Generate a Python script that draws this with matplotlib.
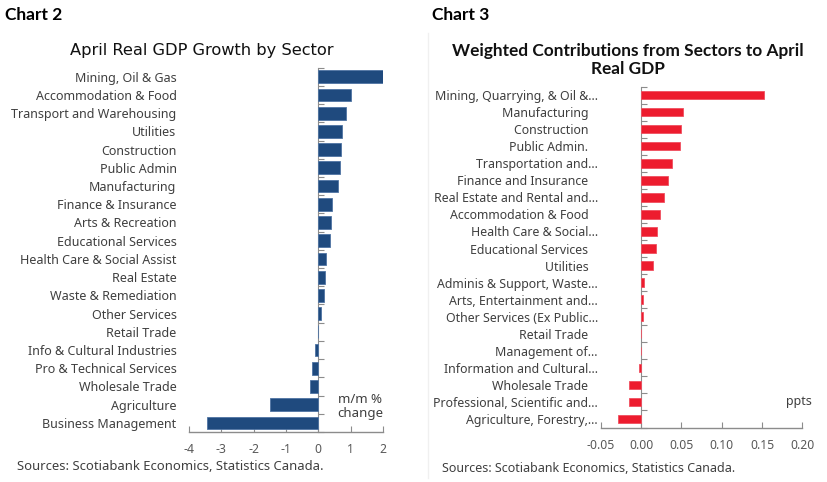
import matplotlib
matplotlib.use("Agg")
import matplotlib.pyplot as plt
from matplotlib.lines import Line2D
import numpy as np

# ---- Chart 2 data ----
sectors2 = ["Mining, Oil & Gas", "Accommodation & Food", "Transport and Warehousing",
            "Utilities", "Construction", "Public Admin", "Manufacturing",
            "Finance & Insurance", "Arts & Recreation", "Educational Services",
            "Health Care & Social Assist", "Real Estate", "Waste & Remediation",
            "Other Services", "Retail Trade", "Info & Cultural Industries",
            "Pro & Technical Services", "Wholesale Trade", "Agriculture",
            "Business Management"]
growth2 = [2.05, 1.02, 0.87, 0.73, 0.70, 0.66, 0.62, 0.43, 0.39, 0.37,
           0.25, 0.22, 0.17, 0.08, 0.0, -0.10, -0.20, -0.27, -1.50, -3.44]
xticks2 = [-4, -3, -2, -1, 0, 1, 2]

# ---- Chart 3 data ----
sectors3 = ["Mining, Quarrying, & Oil &...", "Manufacturing   ", "Construction   ",
            "Public Admin.   ", "Transportation and...", "Finance and Insurance   ",
            "Real Estate and Rental and...", "Accommodation & Food   ",
            "Health Care & Social...", "Educational Services   ", "Utilities   ",
            "Adminis & Support, Waste...", "Arts, Entertainment and...",
            "Other Services (Ex Public...", "Retail Trade   ", "Management of...",
            "Information and Cultural...", "Wholesale Trade   ",
            "Professional, Scientific and...", "Agriculture, Forestry,..."]
contrib3 = [0.153, 0.052, 0.050, 0.048, 0.039, 0.034, 0.029, 0.023, 0.020, 0.019,
            0.015, 0.004, 0.003, 0.002, 0.0, -0.0005, -0.003, -0.0145, -0.015, -0.028]
xticks3 = [-0.05, 0.00, 0.05, 0.10, 0.15, 0.20]

NAVY = "#1f4a7e"
RED = "#ed1c2e"
AXIS = "#8c8c8c"
TXT = "#3f3f3f"
LAB = "Noto Sans"

fig = plt.figure(figsize=(8.28, 4.82), dpi=100)

def style(ax, cats, vals, xticks, color, height, edge, fmt, labsize, pad):
    n = len(cats)
    y = np.arange(n)
    ax.barh(y, vals, height=height, color=color, edgecolor=edge, linewidth=0.6, zorder=2)
    ax.set_xlim(xticks[0], xticks[-1])
    ax.set_ylim(n - 0.5, -0.5)
    ax.set_yticks(y)
    ax.set_yticklabels(cats, fontsize=labsize, color=TXT, family=LAB)
    ax.tick_params(axis="y", length=0, pad=pad)
    ax.set_xticks(xticks)
    ax.set_xticklabels([fmt(v) for v in xticks], fontsize=8.8, color="#595959", family=LAB)
    ax.tick_params(axis="x", direction="in", length=4, color=AXIS, pad=8)
    for s in ["top", "right", "left"]:
        ax.spines[s].set_visible(False)
    ax.spines["bottom"].set_color(AXIS)
    ax.spines["bottom"].set_linewidth(1.0)
    # zero line with category-boundary ticks
    frac = (0 - xticks[0]) / (xticks[-1] - xticks[0])
    sec = ax.secondary_yaxis(frac)
    sec.set_yticks(np.arange(n + 1) - 0.5)
    sec.set_yticklabels([])
    sec.spines["left"].set_color(AXIS)
    sec.spines["right"].set_color(AXIS)
    sec.set_alignment("right")
    sec.tick_params(axis="y", direction="out", length=4, color=AXIS)
    return sec

# Chart 2
ax2 = fig.add_axes([0.2283, 0.1037, 0.2343, 0.756])
style(ax2, sectors2, growth2, xticks2, NAVY, 0.7, "#4f74a3",
      lambda v: f"{v:d}", 9.0, 9)
ax2.text(1.3, 18.1, "m/m %\nchange", ha="center", va="center", fontsize=9.5,
         color=TXT, family=LAB, linespacing=1.15)

# Chart 3
ax3 = fig.add_axes([0.7255, 0.113, 0.2435, 0.7075])
style(ax3, sectors3, contrib3, xticks3, RED, 0.5, "#f05060",
      lambda v: f"{v:.2f}", 8.9, 2)
ax3.text(0.196, 18.0, "ppts", ha="center", va="center", fontsize=9,
         color=TXT, family=LAB)

# faint panel border of chart 3
fig.add_artist(Line2D([428 / 828, 428 / 828], [1 - 33 / 482, 1 - 478 / 482],
                      color="#f0f0f0", lw=1.0))

# Titles and headers
fig.text(5 / 828, 1 - 15 / 482, "Chart 2", fontsize=12.5, fontweight="bold",
         family="Lato", va="center", ha="left", color="black")
fig.text(432 / 828, 1 - 15 / 482, "Chart 3", fontsize=12.5, fontweight="bold",
         family="Lato", va="center", ha="left", color="black")
fig.text(201.7 / 828, 1 - 50 / 482, "April Real GDP Growth by Sector", fontsize=11.7,
         family="DejaVu Sans", va="center", ha="center", color="#111111")
fig.text(628 / 828, 1 - 60 / 482, "Weighted Contributions from Sectors to April\nReal GDP",
         fontsize=12.4, fontweight="bold", family="Lato", va="center", ha="center",
         color="#111111", linespacing=1.2)
fig.text(17 / 828, 1 - 466 / 482, "Sources: Scotiabank Economics, Statistics Canada.",
         fontsize=9.4, family=LAB, va="center", ha="left", color=TXT)
fig.text(442 / 828, 1 - 468 / 482, "Sources: Scotiabank Economics, Statistics Canada.",
         fontsize=9.0, family=LAB, va="center", ha="left", color=TXT)

fig.savefig("out.png", dpi=100)
